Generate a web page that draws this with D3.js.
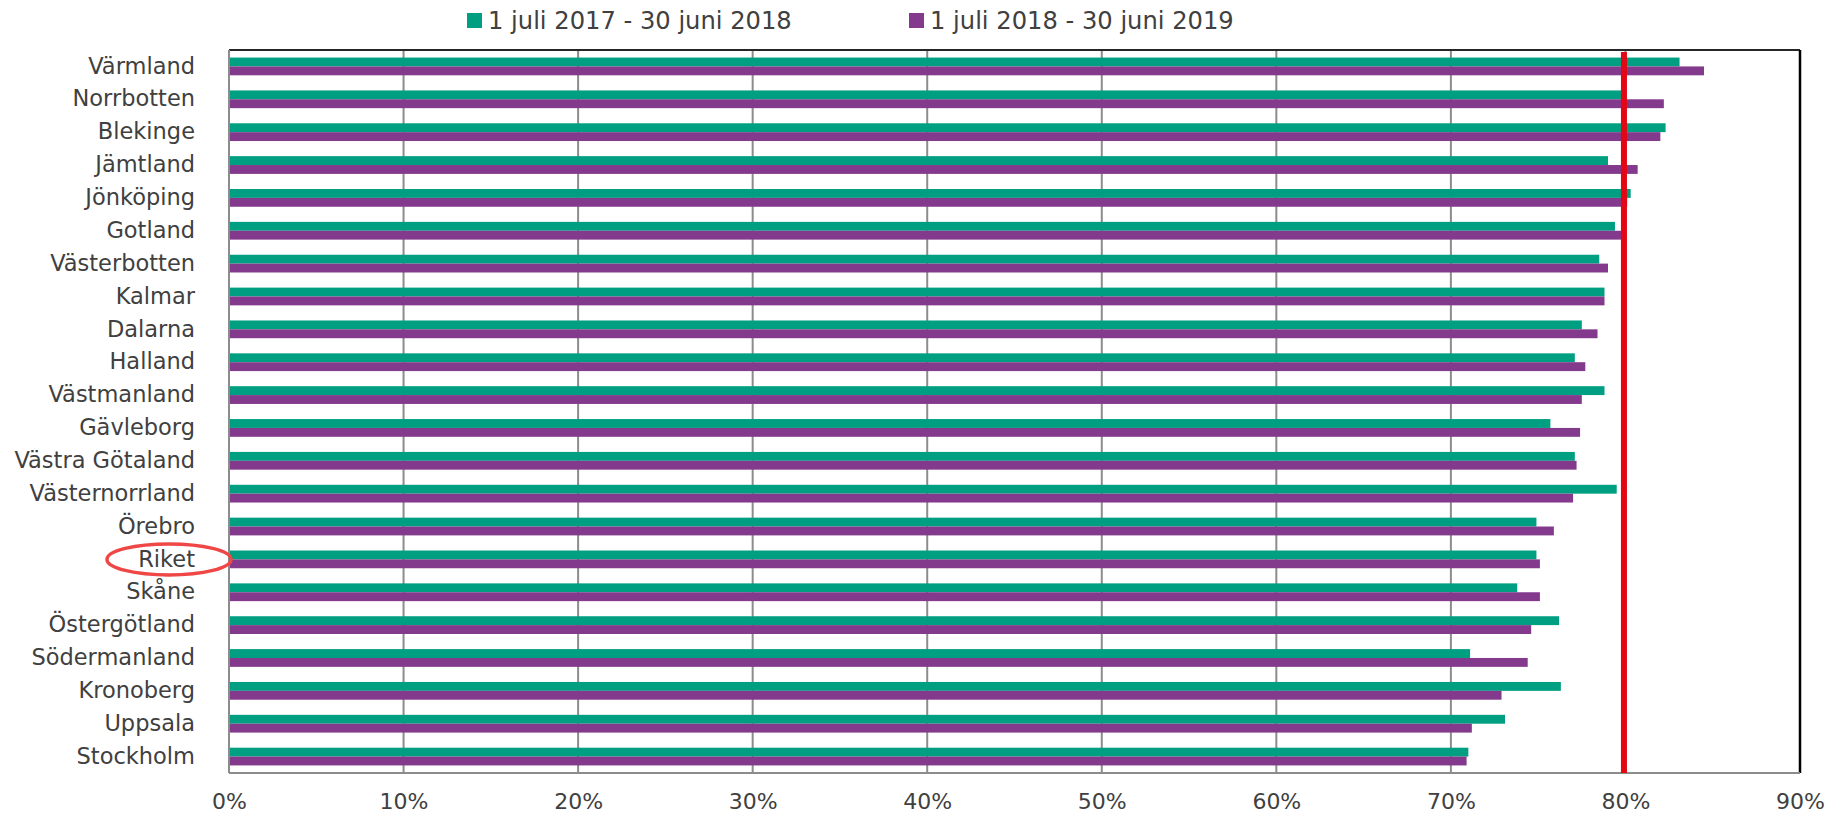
<!DOCTYPE html>
<html><head><meta charset="utf-8">
<script src="https://cdn.jsdelivr.net/npm/d3@7"></script>
<style>body{margin:0;background:#fff}svg{display:block}</style>
</head><body>
<svg id="chart" width="1845" height="813"></svg>
<script>
const regions = ["Värmland","Norrbotten","Blekinge","Jämtland","Jönköping","Gotland","Västerbotten","Kalmar","Dalarna","Halland","Västmanland","Gävleborg","Västra Götaland","Västernorrland","Örebro","Riket","Skåne","Östergötland","Södermanland","Kronoberg","Uppsala","Stockholm"];
const period2017 = [83.1,79.8,82.3,79.0,80.3,79.4,78.5,78.8,77.5,77.1,78.8,75.7,77.1,79.5,74.9,74.9,73.8,76.2,71.1,76.3,73.1,71.0];
const period2018 = [84.5,82.2,82.0,80.7,80.1,79.9,79.0,78.8,78.4,77.7,77.5,77.4,77.2,77.0,75.9,75.1,75.1,74.6,74.4,72.9,71.2,70.9];
const seriesNames = ["1 juli 2017 - 30 juni 2018","1 juli 2018 - 30 juni 2019"];
const seriesColors = ["#009F81","#833A8C"];
const xTicks = [0,10,20,30,40,50,60,70,80,90];
const targetValue = 80;
const highlighted = "Riket";

const svg = d3.select("#chart");
const W = 1845, H = 813;
const m = {left:229, right:45, top:50, bottom:40};
const font = "'DejaVu Sans', Verdana, sans-serif";
const textColor = "#404040";

const x = d3.scaleLinear().domain([0,90]).range([m.left, W - m.right]);
const y = d3.scaleBand().domain(regions).range([m.top, H - m.bottom]).paddingInner(0.46).paddingOuter(0.23);
const ySub = d3.scaleBand().domain([0,1]).range([0, y.bandwidth()]);

// gridlines
svg.append("g").selectAll("line").data(xTicks.filter(t => t > 0 && t < 90)).join("line")
  .attr("x1", d => x(d)).attr("x2", d => x(d))
  .attr("y1", m.top).attr("y2", H - m.bottom)
  .attr("stroke", "#8C8C8C").attr("stroke-width", 2);

// bars
const rows = regions.map((r,i) => ({region:r, vals:[period2017[i], period2018[i]]}));
const g = svg.append("g").selectAll("g").data(rows).join("g")
  .attr("transform", d => `translate(0,${y(d.region)})`);
g.selectAll("rect").data(d => d.vals.map((v,k) => ({v,k}))).join("rect")
  .attr("x", x(0)).attr("y", d => ySub(d.k))
  .attr("width", d => x(d.v) - x(0)).attr("height", ySub.bandwidth())
  .attr("fill", d => seriesColors[d.k]);

// frame
svg.append("line").attr("x1", x(0)).attr("x2", x(90)).attr("y1", m.top).attr("y2", m.top)
  .attr("stroke", "#262626").attr("stroke-width", 2);
svg.append("line").attr("x1", x(90)).attr("x2", x(90)).attr("y1", m.top).attr("y2", H - m.bottom)
  .attr("stroke", "#000").attr("stroke-width", 2.5);
svg.append("line").attr("x1", x(0)).attr("x2", x(0)).attr("y1", m.top).attr("y2", H - m.bottom)
  .attr("stroke", "#8C8C8C").attr("stroke-width", 2);
svg.append("line").attr("x1", x(0)).attr("x2", x(90)).attr("y1", H - m.bottom).attr("y2", H - m.bottom)
  .attr("stroke", "#8C8C8C").attr("stroke-width", 2);

// target line
svg.append("line").attr("x1", x(targetValue) - 1.5).attr("x2", x(targetValue) - 1.5)
  .attr("y1", m.top + 2).attr("y2", H - m.bottom)
  .attr("stroke", "#E30613").attr("stroke-width", 6);

// x axis labels
const xAxis = svg.append("g").attr("transform", `translate(0,${H - m.bottom})`)
  .call(d3.axisBottom(x).tickValues(xTicks).tickSize(0).tickPadding(20).tickFormat(d => d + "%"));
xAxis.select(".domain").remove();
xAxis.selectAll("text").attr("font-family", font).attr("font-size", 22).attr("fill", textColor);

// y axis labels
const yAxis = svg.append("g").attr("transform", `translate(${m.left},0)`)
  .call(d3.axisLeft(y).tickSize(0).tickPadding(34));
yAxis.select(".domain").remove();
yAxis.selectAll("text").attr("font-family", font).attr("font-size", 22.5).attr("fill", textColor);

// highlight ellipse
svg.append("ellipse").attr("cx", 169).attr("cy", y(highlighted) + y.bandwidth()/2)
  .attr("rx", 62).attr("ry", 15.5).attr("fill", "none")
  .attr("stroke", "#EF4646").attr("stroke-width", 3.5);

// legend
const legendX = [467, 909];
const lg = svg.append("g").selectAll("g").data(seriesNames).join("g")
  .attr("transform", (d,i) => `translate(${legendX[i]},0)`);
lg.append("rect").attr("x", 0).attr("y", 13).attr("width", 15).attr("height", 15)
  .attr("fill", (d,i) => seriesColors[i]);
lg.append("text").attr("x", 21).attr("y", 28.5).text(d => d)
  .attr("font-family", font).attr("font-size", 24.2).attr("fill", textColor);
</script>
</body></html>
